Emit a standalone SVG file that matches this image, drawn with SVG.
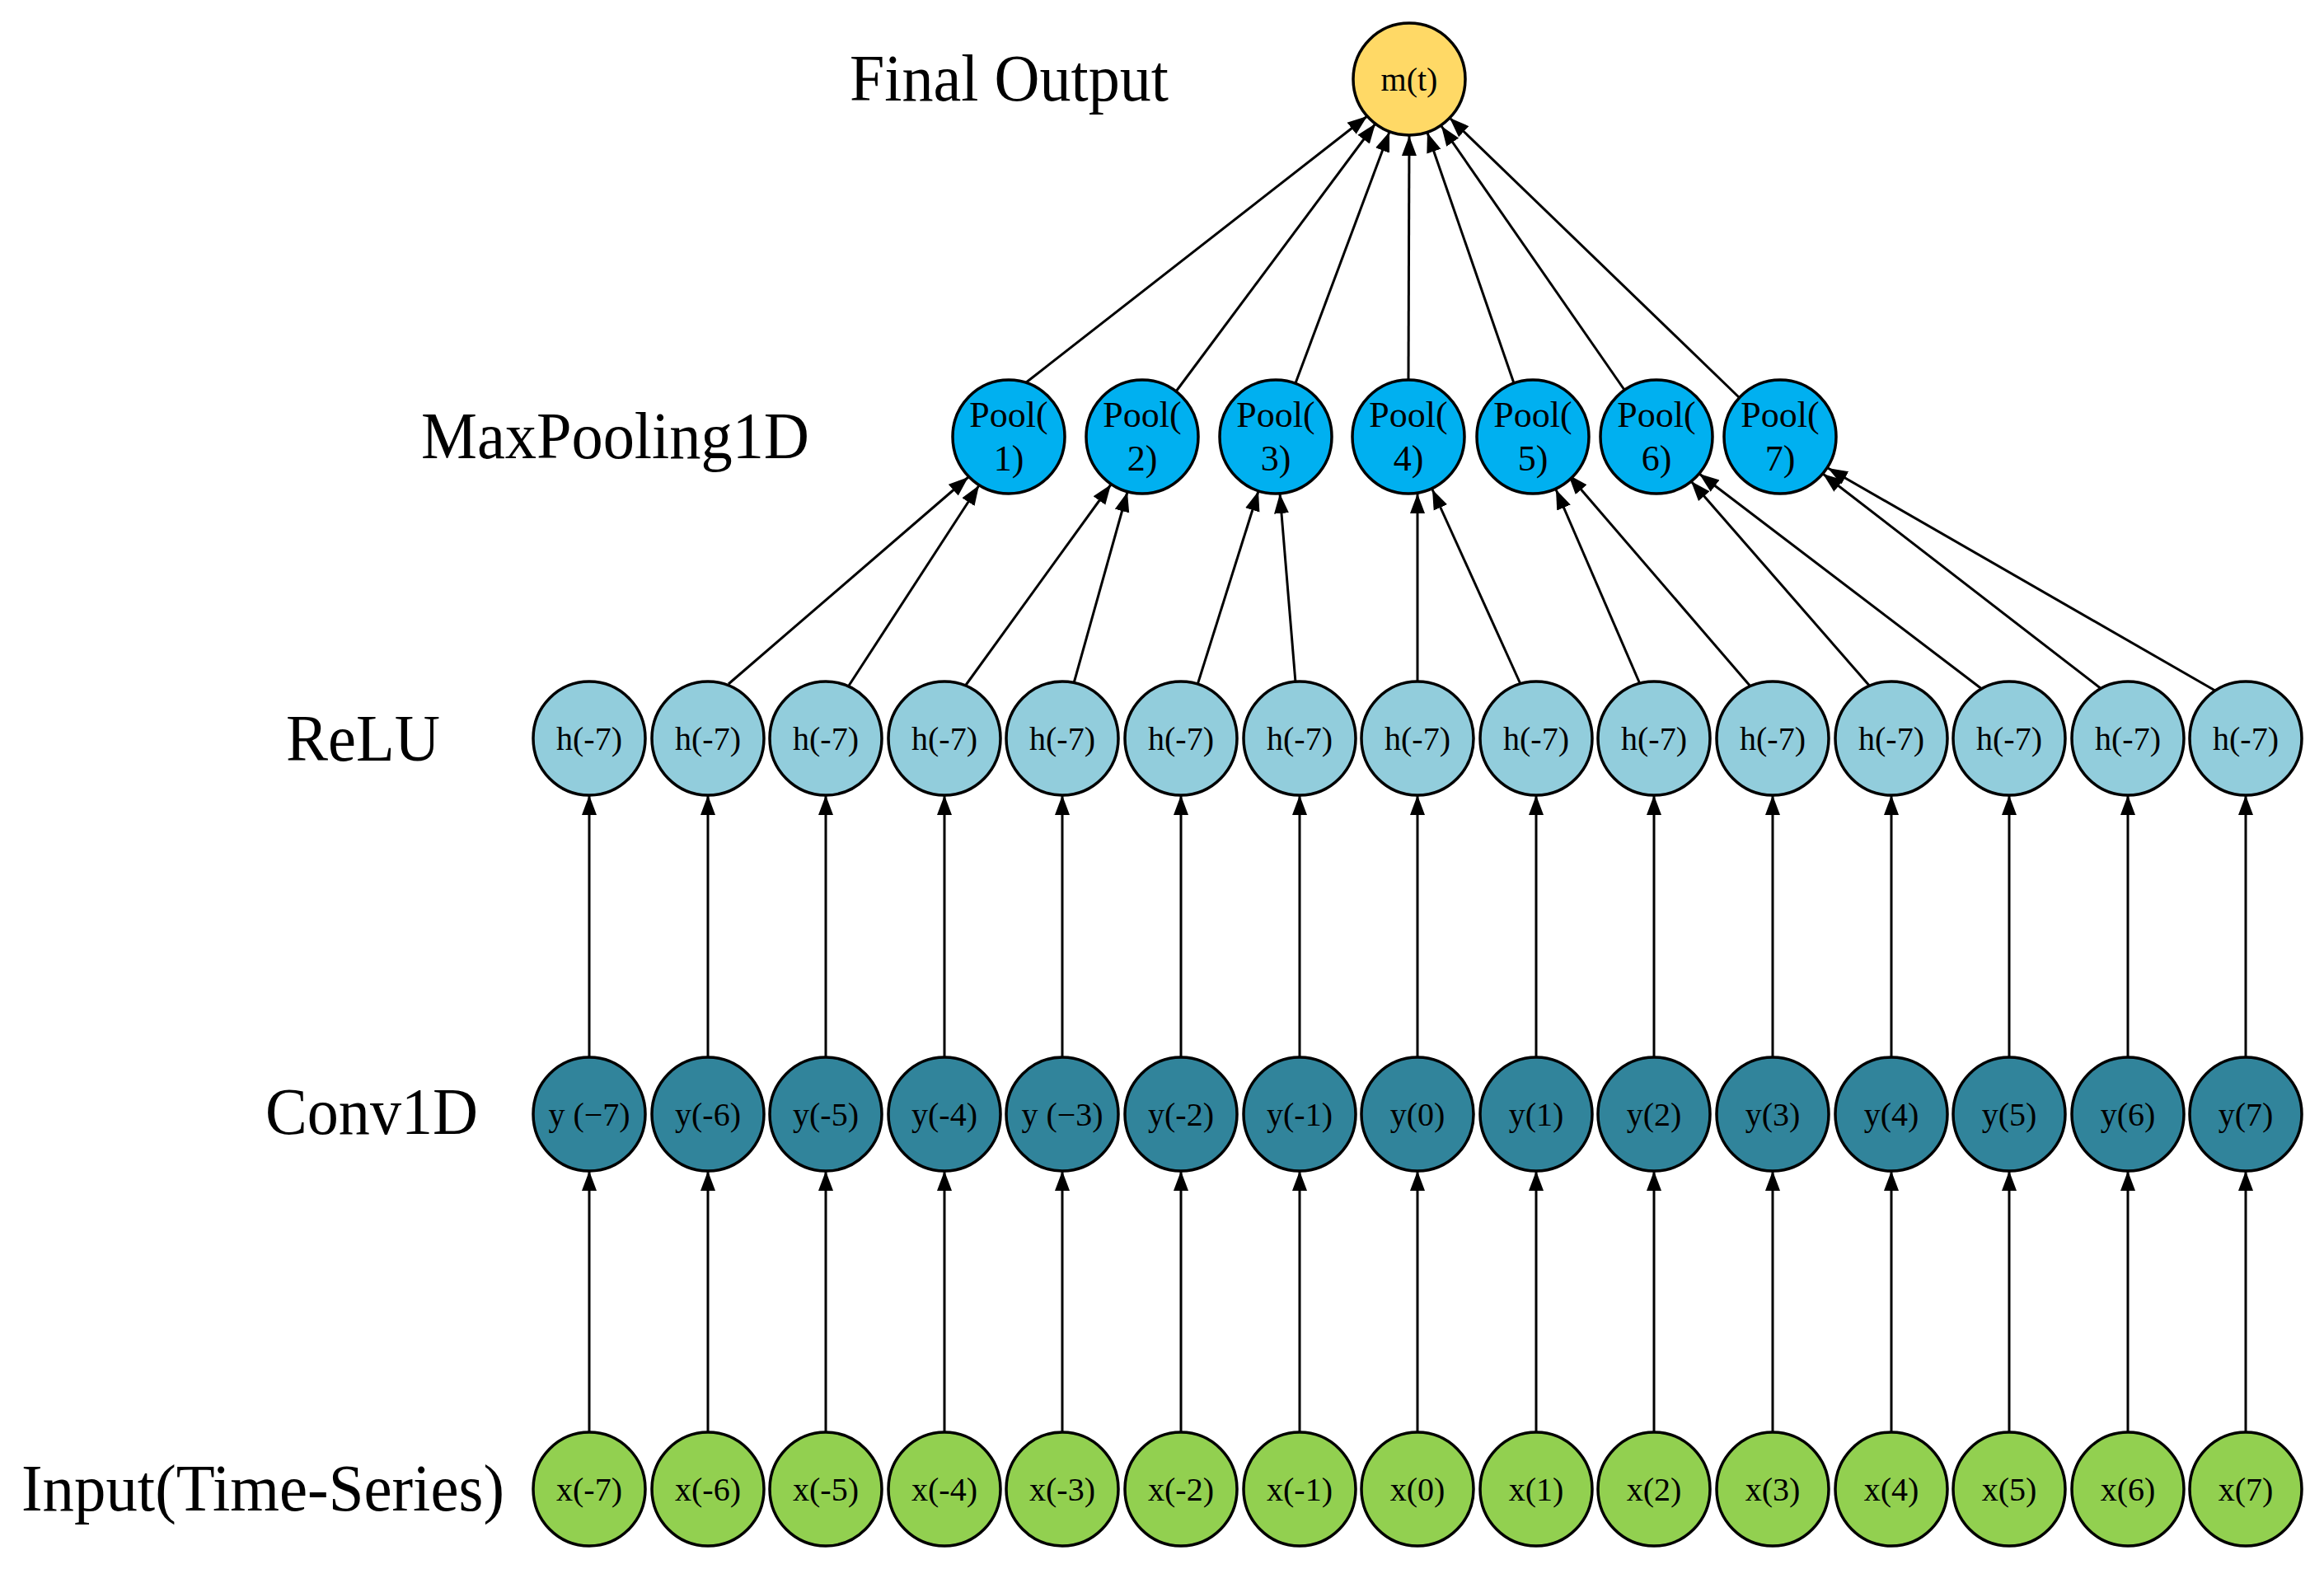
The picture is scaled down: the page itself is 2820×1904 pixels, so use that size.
<svg xmlns="http://www.w3.org/2000/svg" width="2820" height="1904" viewBox="0 0 2820 1904">
<style>
.n{stroke:#000;stroke-width:3.5}
.in{fill:#92D050}.cv{fill:#31849B}.re{fill:#92CDDC}.po{fill:#00B0F0}.out{fill:#FFD966}
.t{font-family:"Liberation Serif","Times New Roman",serif;font-size:40px;text-anchor:middle;fill:#000}
.pt{font-family:"Liberation Serif","Times New Roman",serif;font-size:44px;text-anchor:middle;fill:#000}
.lb{font-family:"Liberation Serif","Times New Roman",serif;font-size:80px;fill:#000}
#edges line{stroke:#000;stroke-width:3;marker-end:url(#ah)}
</style>
<defs>
<marker id="ah" markerUnits="userSpaceOnUse" markerWidth="26" markerHeight="20" refX="24" refY="9" orient="auto" viewBox="0 0 26 18">
<path d="M0,0 L24,9 L0,18 Z" fill="#000"/>
</marker>
</defs>
<rect width="2820" height="1904" fill="#fff"/>
<g id="labels">
<text class="lb" x="1031" y="122" textLength="387" lengthAdjust="spacingAndGlyphs">Final Output</text>
<text class="lb" x="511" y="556" textLength="471" lengthAdjust="spacingAndGlyphs">MaxPooling1D</text>
<text class="lb" x="347" y="923" textLength="187" lengthAdjust="spacingAndGlyphs">ReLU</text>
<text class="lb" x="322" y="1376" textLength="258" lengthAdjust="spacingAndGlyphs">Conv1D</text>
<text class="lb" x="26" y="1833" textLength="586" lengthAdjust="spacingAndGlyphs">Input(Time-Series)</text>
</g>
<g id="edges">
<line x1="715" y1="1739" x2="715" y2="1421"/><line x1="859" y1="1739" x2="859" y2="1421"/><line x1="1002" y1="1739" x2="1002" y2="1421"/><line x1="1146" y1="1739" x2="1146" y2="1421"/><line x1="1289" y1="1739" x2="1289" y2="1421"/><line x1="1433" y1="1739" x2="1433" y2="1421"/><line x1="1577" y1="1739" x2="1577" y2="1421"/><line x1="1720" y1="1739" x2="1720" y2="1421"/><line x1="1864" y1="1739" x2="1864" y2="1421"/><line x1="2007" y1="1739" x2="2007" y2="1421"/><line x1="2151" y1="1739" x2="2151" y2="1421"/><line x1="2295" y1="1739" x2="2295" y2="1421"/><line x1="2438" y1="1739" x2="2438" y2="1421"/><line x1="2582" y1="1739" x2="2582" y2="1421"/><line x1="2725" y1="1739" x2="2725" y2="1421"/>
<line x1="715" y1="1284" x2="715" y2="965"/><line x1="859" y1="1284" x2="859" y2="965"/><line x1="1002" y1="1284" x2="1002" y2="965"/><line x1="1146" y1="1284" x2="1146" y2="965"/><line x1="1289" y1="1284" x2="1289" y2="965"/><line x1="1433" y1="1284" x2="1433" y2="965"/><line x1="1577" y1="1284" x2="1577" y2="965"/><line x1="1720" y1="1284" x2="1720" y2="965"/><line x1="1864" y1="1284" x2="1864" y2="965"/><line x1="2007" y1="1284" x2="2007" y2="965"/><line x1="2151" y1="1284" x2="2151" y2="965"/><line x1="2295" y1="1284" x2="2295" y2="965"/><line x1="2438" y1="1284" x2="2438" y2="965"/><line x1="2582" y1="1284" x2="2582" y2="965"/><line x1="2725" y1="1284" x2="2725" y2="965"/>
<line x1="884" y1="830" x2="1175" y2="579"/><line x1="1030" y1="832" x2="1188" y2="589"/>
<line x1="1170" y1="834" x2="1348" y2="588"/><line x1="1303" y1="829" x2="1368" y2="597"/>
<line x1="1453" y1="831" x2="1527" y2="596"/><line x1="1572" y1="828" x2="1553" y2="599"/>
<line x1="1720" y1="828" x2="1720" y2="599"/><line x1="1845" y1="830" x2="1738" y2="594"/>
<line x1="1990" y1="830" x2="1888" y2="594"/><line x1="2125" y1="834" x2="1903" y2="576"/>
<line x1="2270" y1="834" x2="2052" y2="584"/><line x1="2410" y1="840" x2="2062" y2="575"/>
<line x1="2555" y1="840" x2="2212" y2="575"/><line x1="2700" y1="845" x2="2218" y2="568"/>
<line x1="1244" y1="465" x2="1659" y2="141"/><line x1="1427" y1="475" x2="1669" y2="150"/><line x1="1572" y1="465" x2="1686" y2="160"/><line x1="1709" y1="461" x2="1710" y2="165"/><line x1="1837" y1="465" x2="1732" y2="161"/><line x1="1971" y1="473" x2="1749" y2="153"/><line x1="2110" y1="482" x2="1759" y2="143"/>
</g>
<g id="out"><ellipse class="n out" cx="1710" cy="96" rx="68" ry="68"/><text class="t" x="1710" y="110">m(t)</text></g>
<g id="pool1"><ellipse class="n po" cx="1224" cy="530" rx="68" ry="69"/><text class="pt" x="1224" y="518">Pool(</text><text class="pt" x="1224" y="571">1)</text></g>
<g id="pool2"><ellipse class="n po" cx="1386" cy="530" rx="68" ry="69"/><text class="pt" x="1386" y="518">Pool(</text><text class="pt" x="1386" y="571">2)</text></g>
<g id="pool3"><ellipse class="n po" cx="1548" cy="530" rx="68" ry="69"/><text class="pt" x="1548" y="518">Pool(</text><text class="pt" x="1548" y="571">3)</text></g>
<g id="pool4"><ellipse class="n po" cx="1709" cy="530" rx="68" ry="69"/><text class="pt" x="1709" y="518">Pool(</text><text class="pt" x="1709" y="571">4)</text></g>
<g id="pool5"><ellipse class="n po" cx="1860" cy="530" rx="68" ry="69"/><text class="pt" x="1860" y="518">Pool(</text><text class="pt" x="1860" y="571">5)</text></g>
<g id="pool6"><ellipse class="n po" cx="2010" cy="530" rx="68" ry="69"/><text class="pt" x="2010" y="518">Pool(</text><text class="pt" x="2010" y="571">6)</text></g>
<g id="pool7"><ellipse class="n po" cx="2160" cy="530" rx="68" ry="69"/><text class="pt" x="2160" y="518">Pool(</text><text class="pt" x="2160" y="571">7)</text></g>
<g id="h1"><ellipse class="n re" cx="715" cy="896" rx="68" ry="69"/><text class="t" x="715" y="910">h(-7)</text></g>
<g id="h2"><ellipse class="n re" cx="859" cy="896" rx="68" ry="69"/><text class="t" x="859" y="910">h(-7)</text></g>
<g id="h3"><ellipse class="n re" cx="1002" cy="896" rx="68" ry="69"/><text class="t" x="1002" y="910">h(-7)</text></g>
<g id="h4"><ellipse class="n re" cx="1146" cy="896" rx="68" ry="69"/><text class="t" x="1146" y="910">h(-7)</text></g>
<g id="h5"><ellipse class="n re" cx="1289" cy="896" rx="68" ry="69"/><text class="t" x="1289" y="910">h(-7)</text></g>
<g id="h6"><ellipse class="n re" cx="1433" cy="896" rx="68" ry="69"/><text class="t" x="1433" y="910">h(-7)</text></g>
<g id="h7"><ellipse class="n re" cx="1577" cy="896" rx="68" ry="69"/><text class="t" x="1577" y="910">h(-7)</text></g>
<g id="h8"><ellipse class="n re" cx="1720" cy="896" rx="68" ry="69"/><text class="t" x="1720" y="910">h(-7)</text></g>
<g id="h9"><ellipse class="n re" cx="1864" cy="896" rx="68" ry="69"/><text class="t" x="1864" y="910">h(-7)</text></g>
<g id="h10"><ellipse class="n re" cx="2007" cy="896" rx="68" ry="69"/><text class="t" x="2007" y="910">h(-7)</text></g>
<g id="h11"><ellipse class="n re" cx="2151" cy="896" rx="68" ry="69"/><text class="t" x="2151" y="910">h(-7)</text></g>
<g id="h12"><ellipse class="n re" cx="2295" cy="896" rx="68" ry="69"/><text class="t" x="2295" y="910">h(-7)</text></g>
<g id="h13"><ellipse class="n re" cx="2438" cy="896" rx="68" ry="69"/><text class="t" x="2438" y="910">h(-7)</text></g>
<g id="h14"><ellipse class="n re" cx="2582" cy="896" rx="68" ry="69"/><text class="t" x="2582" y="910">h(-7)</text></g>
<g id="h15"><ellipse class="n re" cx="2725" cy="896" rx="68" ry="69"/><text class="t" x="2725" y="910">h(-7)</text></g>
<g id="y1"><ellipse class="n cv" cx="715" cy="1352" rx="68" ry="69"/><text class="t" x="715" y="1366">y (−7)</text></g>
<g id="y2"><ellipse class="n cv" cx="859" cy="1352" rx="68" ry="69"/><text class="t" x="859" y="1366">y(-6)</text></g>
<g id="y3"><ellipse class="n cv" cx="1002" cy="1352" rx="68" ry="69"/><text class="t" x="1002" y="1366">y(-5)</text></g>
<g id="y4"><ellipse class="n cv" cx="1146" cy="1352" rx="68" ry="69"/><text class="t" x="1146" y="1366">y(-4)</text></g>
<g id="y5"><ellipse class="n cv" cx="1289" cy="1352" rx="68" ry="69"/><text class="t" x="1289" y="1366">y (−3)</text></g>
<g id="y6"><ellipse class="n cv" cx="1433" cy="1352" rx="68" ry="69"/><text class="t" x="1433" y="1366">y(-2)</text></g>
<g id="y7"><ellipse class="n cv" cx="1577" cy="1352" rx="68" ry="69"/><text class="t" x="1577" y="1366">y(-1)</text></g>
<g id="y8"><ellipse class="n cv" cx="1720" cy="1352" rx="68" ry="69"/><text class="t" x="1720" y="1366">y(0)</text></g>
<g id="y9"><ellipse class="n cv" cx="1864" cy="1352" rx="68" ry="69"/><text class="t" x="1864" y="1366">y(1)</text></g>
<g id="y10"><ellipse class="n cv" cx="2007" cy="1352" rx="68" ry="69"/><text class="t" x="2007" y="1366">y(2)</text></g>
<g id="y11"><ellipse class="n cv" cx="2151" cy="1352" rx="68" ry="69"/><text class="t" x="2151" y="1366">y(3)</text></g>
<g id="y12"><ellipse class="n cv" cx="2295" cy="1352" rx="68" ry="69"/><text class="t" x="2295" y="1366">y(4)</text></g>
<g id="y13"><ellipse class="n cv" cx="2438" cy="1352" rx="68" ry="69"/><text class="t" x="2438" y="1366">y(5)</text></g>
<g id="y14"><ellipse class="n cv" cx="2582" cy="1352" rx="68" ry="69"/><text class="t" x="2582" y="1366">y(6)</text></g>
<g id="y15"><ellipse class="n cv" cx="2725" cy="1352" rx="68" ry="69"/><text class="t" x="2725" y="1366">y(7)</text></g>
<g id="x1"><ellipse class="n in" cx="715" cy="1807" rx="68" ry="69"/><text class="t" x="715" y="1821">x(-7)</text></g>
<g id="x2"><ellipse class="n in" cx="859" cy="1807" rx="68" ry="69"/><text class="t" x="859" y="1821">x(-6)</text></g>
<g id="x3"><ellipse class="n in" cx="1002" cy="1807" rx="68" ry="69"/><text class="t" x="1002" y="1821">x(-5)</text></g>
<g id="x4"><ellipse class="n in" cx="1146" cy="1807" rx="68" ry="69"/><text class="t" x="1146" y="1821">x(-4)</text></g>
<g id="x5"><ellipse class="n in" cx="1289" cy="1807" rx="68" ry="69"/><text class="t" x="1289" y="1821">x(-3)</text></g>
<g id="x6"><ellipse class="n in" cx="1433" cy="1807" rx="68" ry="69"/><text class="t" x="1433" y="1821">x(-2)</text></g>
<g id="x7"><ellipse class="n in" cx="1577" cy="1807" rx="68" ry="69"/><text class="t" x="1577" y="1821">x(-1)</text></g>
<g id="x8"><ellipse class="n in" cx="1720" cy="1807" rx="68" ry="69"/><text class="t" x="1720" y="1821">x(0)</text></g>
<g id="x9"><ellipse class="n in" cx="1864" cy="1807" rx="68" ry="69"/><text class="t" x="1864" y="1821">x(1)</text></g>
<g id="x10"><ellipse class="n in" cx="2007" cy="1807" rx="68" ry="69"/><text class="t" x="2007" y="1821">x(2)</text></g>
<g id="x11"><ellipse class="n in" cx="2151" cy="1807" rx="68" ry="69"/><text class="t" x="2151" y="1821">x(3)</text></g>
<g id="x12"><ellipse class="n in" cx="2295" cy="1807" rx="68" ry="69"/><text class="t" x="2295" y="1821">x(4)</text></g>
<g id="x13"><ellipse class="n in" cx="2438" cy="1807" rx="68" ry="69"/><text class="t" x="2438" y="1821">x(5)</text></g>
<g id="x14"><ellipse class="n in" cx="2582" cy="1807" rx="68" ry="69"/><text class="t" x="2582" y="1821">x(6)</text></g>
<g id="x15"><ellipse class="n in" cx="2725" cy="1807" rx="68" ry="69"/><text class="t" x="2725" y="1821">x(7)</text></g>
</svg>
